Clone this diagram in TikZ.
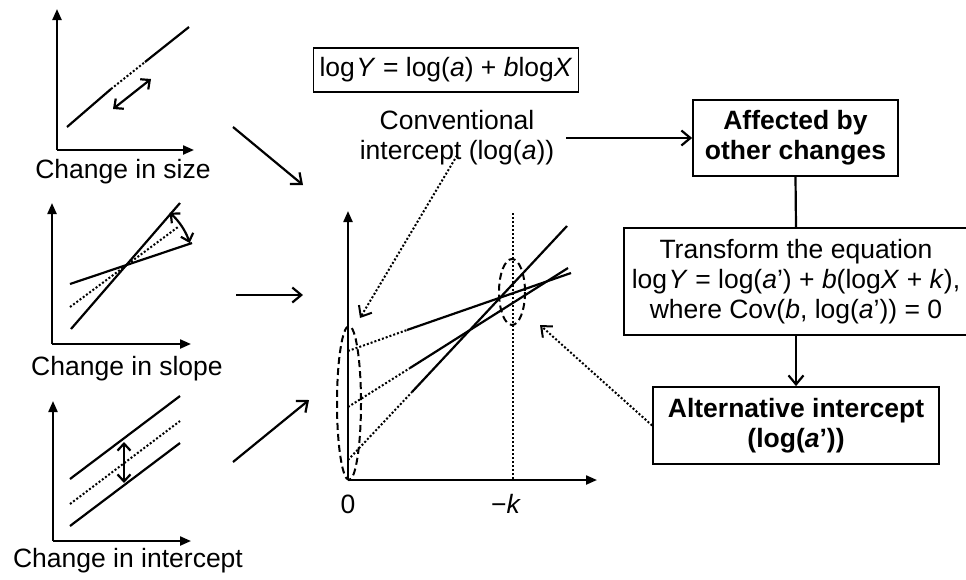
\documentclass[tikz,border=0pt]{standalone}
\usepackage{fontspec}
\setmainfont{Liberation Sans}
\usetikzlibrary{arrows.meta}
\begin{document}
\begin{tikzpicture}[x=1pt,y=-1pt,
  every node/.style={font=\fontsize{26.5}{30}\selectfont},
  ln/.style={line width=2.2pt},
  dt/.style={line width=2pt, dash pattern=on 2pt off 2pt},
  dsh/.style={line width=2pt, dash pattern=on 7pt off 4pt},
  axis/.style={line width=2.2pt, -{Triangle[length=11pt,width=9pt]}},
  arr/.style={line width=2.2pt, -{Straight Barb[length=9pt,width=15pt]}},
  darr/.style={line width=2.2pt, {Straight Barb[length=7pt,width=13pt]}-{Straight Barb[length=7pt,width=13pt]}},
  dtarr/.style={dt, -{Straight Barb[length=9pt,width=15pt,line width=2pt]}},
  box/.style={draw, line width=1.8pt, align=center, inner sep=0pt},
]
\useasboundingbox (0,0) rectangle (966,579);

% ---------- panel 1: change in size ----------
\draw[axis] (57,150) -- (57,9);
\draw[axis] (57,150) -- (194,150);
\draw[ln] (67,127) -- (111,89);
\draw[dt] (111,89) -- (145,62);
\draw[ln] (145,62) -- (189,27);
\draw[darr] (113,109) -- (151,79);
\node (lsize) at (123,172) {Change in size};

% ---------- panel 2: change in slope ----------
\draw[axis] (52,344) -- (52,203);
\draw[axis] (52,344) -- (191,344);
\draw[ln] (71,329) -- (180,203);
\draw[ln] (70,284) -- (192,243);
\draw[dt] (70,307) -- (178,227);
\coordinate (pivot) at (125,264);
\draw[darr] (pivot) ++(-49:68) arc[start angle=-49, end angle=-18, radius=68];
\node (lslope) at (127,369) {Change in slope};

% ---------- panel 3: change in intercept ----------
\draw[axis] (53,541) -- (53,401);
\draw[axis] (53,541) -- (191,541);
\draw[ln] (70,479) -- (180,396);
\draw[dt] (70,504) -- (180,421);
\draw[ln] (70,526) -- (180,443);
\draw[darr] (124,442) -- (124,483);
\node (lint) at (128,561) {Change in intercept};

% ---------- arrows into the main plot ----------
\draw[arr] (233,127) -- (303,185);
\draw[arr] (236,295) -- (303,295);
\draw[arr] (233,462) -- (309,400);

% ---------- main plot ----------
\draw[axis] (348,480) -- (348,211);
\draw[axis] (348,480) -- (597,480);
\draw[dt] (513,213) -- (513,480);
\draw[dt] (348,351) -- (407,330);
\draw[ln] (407,330) -- (571,273);
\draw[dt] (348,407) -- (410,368);
\draw[ln] (410,368) -- (568,268);
\draw[dt] (348,460) -- (412,392);
\draw[ln] (412,392) -- (567,226);
\draw[dsh] (349,403) ellipse[x radius=12, y radius=77];
\draw[dsh] (512,292) ellipse[x radius=13, y radius=33];
\node (zero) at (348,504) {0};
\node (mk) at (506,504) {−\textit{k}};
\coordinate (lefttip) at (360,318);
\coordinate (righttip) at (540,325);

% ---------- text and boxes ----------
\node[box, minimum width=265, minimum height=44] (eq) at (446,70)
  {log\kern1.5pt\textit{Y} = log(\textit{a}) + \textit{b}log\textit{X}};
\node[align=center, inner sep=0pt] (conv) at (457,138)
  {Conventional\\intercept (log(\textit{a}))};
\node[box, minimum width=205, minimum height=76, font=\fontsize{26.5}{30}\selectfont\bfseries] (aff) at (795.5,138)
  {Affected by\\other changes};
\node[box, minimum width=344, minimum height=107] (trans) at (796,281.5)
  {Transform the equation\\log\kern1.5pt\textit{Y} = log(\textit{a}’) + \textit{b}(log\textit{X} + \textit{k}),\\where Cov(\textit{b}, log(\textit{a}’)) = 0};
\node[box, minimum width=286, minimum height=77, font=\fontsize{26.5}{30}\selectfont\bfseries] (alt) at (796,425.5)
  {Alternative intercept\\(log(\textit{a}’))};

\draw[arr] ([xshift=12pt]conv.east |- aff.west) -- (aff.west);
\draw[line width=2.2pt] (aff.south) -- (trans.north);
\draw[arr] (trans.south) -- (alt.north);
\draw[dtarr] ([yshift=10pt]conv.south) -- (lefttip);
\draw[dtarr] (alt.west) -- (righttip);
\end{tikzpicture}
\end{document}
